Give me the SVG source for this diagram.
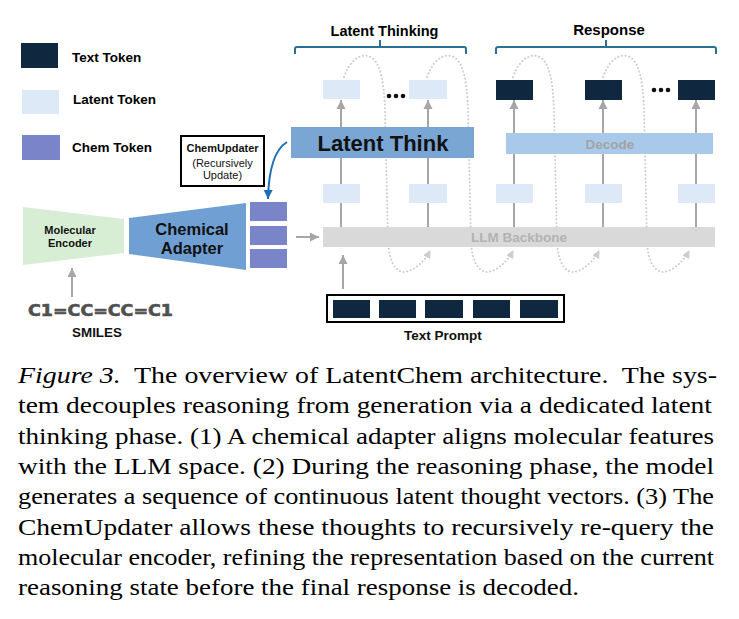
<svg xmlns="http://www.w3.org/2000/svg" width="739" height="619" viewBox="0 0 739 619">
<style>
.sans{font-family:"Liberation Sans",Arial,sans-serif;}
.b{font-weight:bold;}
.tt{fill:#10283f;}
.lt{fill:#dde9f6;}
.ct{fill:#7a85c9;}
.garrow{stroke:#a6a6a6;stroke-width:2;fill:none;marker-end:url(#ga);}
.loop{stroke:#cdcdcd;stroke-width:2;fill:none;stroke-dasharray:0.1 3.6;stroke-linecap:round;marker-end:url(#la);}
.brk{stroke:#2b6f96;stroke-width:2;fill:none;}
.cap{font-family:"Liberation Serif","Times New Roman",serif;font-size:22.5px;fill:#000;}
</style>
<defs>
<marker id="ga" markerUnits="userSpaceOnUse" markerWidth="10" markerHeight="10" refX="9" refY="5" orient="auto"><path d="M0,0.5 L9,5 L0,9.5 z" fill="#a6a6a6"/></marker>
<marker id="la" markerUnits="userSpaceOnUse" markerWidth="9" markerHeight="9" refX="7" refY="4" orient="auto"><path d="M0,0 L8,4 L0,8 z" fill="#cdcdcd"/></marker>
<marker id="ba" markerUnits="userSpaceOnUse" markerWidth="10" markerHeight="10" refX="9" refY="5" orient="auto"><path d="M0,0.5 L9,5 L0,9.5 z" fill="#1f6eb5"/></marker>
<path id="loopPath" d="M0 77 C6 60,16 54,24 56 C36 59,40 80,41 110 L44 242 C45 262,52 272,60 272 C70 271,80 262,86 251"/>
</defs>

<g id="legend">
<rect class="tt" x="21" y="43" width="37" height="25"/>
<text class="sans b" x="72" y="62" font-size="13.5">Text Token</text>
<rect class="lt" x="22" y="90" width="37" height="24"/>
<text class="sans b" x="73" y="104" font-size="13.5">Latent Token</text>
<rect class="ct" x="22" y="135" width="38" height="25"/>
<text class="sans b" x="72" y="152" font-size="13.5">Chem Token</text>
</g>

<g id="connectors">
<use href="#loopPath" class="loop" transform="translate(344,0)"/>
<use href="#loopPath" class="loop" transform="translate(427,0)"/>
<use href="#loopPath" class="loop" transform="translate(513,0)"/>
<use href="#loopPath" class="loop" transform="translate(603,0)"/>
<line class="garrow" x1="341" y1="227" x2="341" y2="100"/>
<line class="garrow" x1="428" y1="227" x2="428" y2="100"/>
<line class="garrow" x1="514" y1="227" x2="514" y2="100"/>
<line class="garrow" x1="603" y1="227" x2="603" y2="100"/>
<line class="garrow" x1="696" y1="227" x2="696" y2="100"/>
<line class="garrow" x1="296" y1="237" x2="319" y2="237"/>
<line class="garrow" x1="343" y1="289" x2="343" y2="255"/>
<line class="garrow" x1="72" y1="297" x2="72" y2="268"/>
<path d="M287 142 Q269 153 268 199" stroke="#1f6eb5" stroke-width="2" fill="none" marker-end="url(#ba)"/>
</g>

<g id="latent-thinking-bracket">
<path class="brk" d="M295 54 V49 Q295 47 297 47 H464 Q466 47 466 49 V54 M380 47 V40"/>
<text class="sans b" x="384.5" y="36" font-size="14.5" text-anchor="middle">Latent Thinking</text>
</g>
<g id="response-bracket">
<path class="brk" d="M496 54 V49 Q496 47 498 47 H714 Q716 47 716 49 V54 M606 47 V40"/>
<text class="sans b" x="609" y="35" font-size="15" text-anchor="middle">Response</text>
</g>

<g id="top-tokens">
<rect class="lt" x="323" y="80" width="37" height="19"/>
<rect class="lt" x="409" y="80" width="38" height="19"/>
<circle cx="389" cy="96" r="2.3" fill="#111"/><circle cx="396" cy="96" r="2.3" fill="#111"/><circle cx="403" cy="96" r="2.3" fill="#111"/>
<rect class="tt" x="496" y="80" width="37" height="20"/>
<rect class="tt" x="585" y="80" width="37" height="20"/>
<rect class="tt" x="678" y="80" width="37" height="20"/>
<circle cx="654" cy="90" r="2.3" fill="#111"/><circle cx="661" cy="90" r="2.3" fill="#111"/><circle cx="668" cy="90" r="2.3" fill="#111"/>
</g>

<g id="latent-think">
<rect x="291" y="127" width="183" height="31" fill="#7aa6d4"/>
<text class="sans b" x="383" y="151" font-size="22" text-anchor="middle" fill="#111">Latent Think</text>
</g>

<g id="decode">
<rect x="506" y="133" width="207" height="21" fill="#a9c9eb"/>
<text class="sans b" x="610" y="148.5" font-size="13.5" text-anchor="middle" fill="#a3a3a3">Decode</text>
</g>

<g id="bottom-tokens">
<rect class="lt" x="323" y="184" width="37" height="19"/>
<rect class="lt" x="409" y="184" width="38" height="19"/>
<rect class="lt" x="496" y="184" width="37" height="19"/>
<rect class="lt" x="585" y="184" width="37" height="19"/>
<rect class="lt" x="678" y="184" width="37" height="19"/>
</g>

<g id="llm-backbone">
<rect x="323" y="227" width="392" height="20" fill="#d9d9d9"/>
<text class="sans b" x="519" y="242" font-size="13.5" text-anchor="middle" fill="#b3b3b3">LLM Backbone</text>
</g>

<g id="text-prompt">
<rect x="327" y="295" width="237" height="27" fill="none" stroke="#000" stroke-width="2"/>
<rect class="tt" x="333" y="300" width="37" height="18"/>
<rect class="tt" x="379" y="300" width="37" height="18"/>
<rect class="tt" x="425" y="300" width="38" height="18"/>
<rect class="tt" x="473" y="300" width="37" height="18"/>
<rect class="tt" x="520" y="300" width="38" height="18"/>
<text class="sans b" x="443" y="340" font-size="13.5" text-anchor="middle" fill="#111">Text Prompt</text>
</g>

<g id="chemupdater">
<rect x="181" y="136" width="83" height="50" fill="#fff" stroke="#000" stroke-width="2"/>
<text class="sans b" x="222.5" y="152" font-size="11" text-anchor="middle" fill="#111">ChemUpdater</text>
<text class="sans" x="222.5" y="167" font-size="11" text-anchor="middle" fill="#111">(Recursively</text>
<text class="sans" x="222.5" y="179" font-size="11" text-anchor="middle" fill="#111">Update)</text>
</g>

<g id="molecular-encoder">
<polygon points="23,207 124,219 124,253 23,265" fill="#d7eed4"/>
<text class="sans b" x="70" y="234" font-size="11" text-anchor="middle" fill="#111">Molecular</text>
<text class="sans b" x="70" y="247" font-size="11" text-anchor="middle" fill="#111">Encoder</text>
</g>

<g id="chemical-adapter">
<polygon points="129,218 246,203 246,270 129,254" fill="#70a0d3"/>
<text class="sans b" x="192" y="235" font-size="16.5" text-anchor="middle" fill="#111">Chemical</text>
<text class="sans b" x="192" y="254" font-size="16.5" text-anchor="middle" fill="#111">Adapter</text>
</g>

<g id="chem-tokens">
<rect class="ct" x="250" y="202" width="37" height="19"/>
<rect class="ct" x="250" y="226" width="37" height="19"/>
<rect class="ct" x="250" y="249" width="37" height="19"/>
</g>

<g id="smiles">
<text x="28" y="316" font-family="'DejaVu Sans',sans-serif" font-weight="bold" font-size="16" fill="#505050" stroke="#505050" stroke-width="0.6" textLength="145" lengthAdjust="spacingAndGlyphs">C1=CC=CC=C1</text>
<text class="sans b" x="97" y="337" font-size="13.4" text-anchor="middle" fill="#111">SMILES</text>
</g>

<g id="caption">
<text class="cap" x="18" y="383" textLength="699" lengthAdjust="spacingAndGlyphs"><tspan font-style="italic">Figure 3.</tspan>&#160; The overview of LatentChem architecture.&#160; The sys-</text>
<text class="cap" x="18" y="413.3" textLength="694" lengthAdjust="spacingAndGlyphs">tem decouples reasoning from generation via a dedicated latent</text>
<text class="cap" x="18" y="443.6" textLength="696" lengthAdjust="spacingAndGlyphs">thinking phase. (1) A chemical adapter aligns molecular features</text>
<text class="cap" x="18" y="473.9" textLength="696" lengthAdjust="spacingAndGlyphs">with the LLM space. (2) During the reasoning phase, the model</text>
<text class="cap" x="18" y="504.2" textLength="696" lengthAdjust="spacingAndGlyphs">generates a sequence of continuous latent thought vectors. (3) The</text>
<text class="cap" x="18" y="534.5" textLength="696" lengthAdjust="spacingAndGlyphs">ChemUpdater allows these thoughts to recursively re-query the</text>
<text class="cap" x="18" y="564.8" textLength="696" lengthAdjust="spacingAndGlyphs">molecular encoder, refining the representation based on the current</text>
<text class="cap" x="18" y="595.1" textLength="561" lengthAdjust="spacingAndGlyphs">reasoning state before the final response is decoded.</text>
</g>
</svg>
